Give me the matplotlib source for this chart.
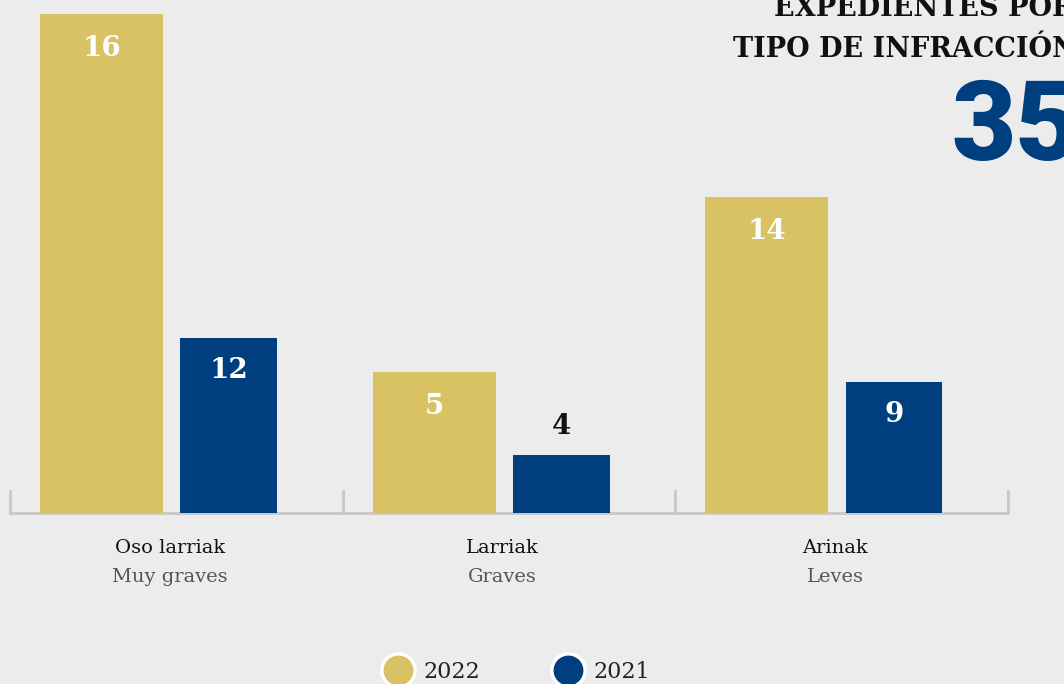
import matplotlib
matplotlib.use("Agg")
import matplotlib.pyplot as plt
import numpy as np

# Datos
categorias = ["Oso larriak", "Larriak", "Arinak"]
subtitulos = ["Muy graves", "Graves", "Leves"]
valores_2022 = [16, 5, 14]
valores_2021 = [12, 4, 9]
# altura dibujada de las barras en la imagen (no es proporcional al valor)
altura_2022 = [16.0, 4.52, 10.13]
altura_2021 = [5.61, 1.86, 4.20]
total = "35"
titulo_1 = "EXPEDIENTES POR"
titulo_2 = "TIPO DE INFRACCIÓN"

oro = "#d9c264"
azul = "#003f7f"
fondo = "#ececec"
gris = "#c8c8c8"

fig = plt.figure(figsize=(10.64, 6.84), dpi=100, facecolor=fondo)
ax = fig.add_axes([0, 0, 1, 1])
ax.set_facecolor(fondo)
ax.set_xlim(-0.530, 2.668)
ax.set_ylim(-5.483, 16.448)
ax.axis("off")

x = np.arange(len(categorias))
off_oro, off_azul = -0.225, 0.157
b1 = ax.bar(x + off_oro, altura_2022, width=0.37, color=oro, zorder=3)
b2 = ax.bar(x + off_azul, altura_2021, width=0.29, color=azul, zorder=3)

# eje inferior con marcas
ax.plot([-0.5, 2.5], [0, 0], color=gris, lw=2, zorder=2, solid_capstyle="butt")
for xt in [-0.5, 0.5, 1.5, 2.5]:
    ax.plot([xt, xt], [0, 0.72], color=gris, lw=2, zorder=2)

serif = ["DejaVu Serif"]

# etiquetas de valores
for i in range(len(categorias)):
    ax.text(x[i] + off_oro, altura_2022[i] - 1.1, str(valores_2022[i]),
            ha="center", va="center", color="white", fontsize=20,
            fontweight="bold", family=serif, zorder=4)
    if altura_2021[i] > 3:
        ax.text(x[i] + off_azul, altura_2021[i] - 1.05, str(valores_2021[i]),
                ha="center", va="center", color="white", fontsize=20,
                fontweight="bold", family=serif, zorder=4)
    else:
        ax.text(x[i] + off_azul, altura_2021[i] + 0.9, str(valores_2021[i]),
                ha="center", va="center", color="#111111", fontsize=20,
                fontweight="bold", family=serif, zorder=4)

# categorias
for i in range(len(categorias)):
    ax.text(x[i] - 0.02, -1.12, categorias[i], ha="center", va="center",
            fontsize=14, color="#111111", family=serif)
    ax.text(x[i] - 0.02, -2.05, subtitulos[i], ha="center", va="center",
            fontsize=14, color="#555555", family=serif, fontweight="light")

# titulo y total (cortados en el borde, como en el original)
fig.text(0.727, 0.988, titulo_1, ha="left", va="center", fontsize=19.5,
         fontweight="bold", family=serif, color="#111111")
fig.text(0.689, 0.927, titulo_2, ha="left", va="center", fontsize=19.5,
         fontweight="bold", family=serif, color="#111111")
fig.text(0.894, 0.81, total, ha="left", va="center", fontsize=80,
         fontweight="heavy", family=["Roboto", "DejaVu Sans"], color=azul)

# leyenda
for xp, col, lab in [(0.374, oro, "2022"), (0.534, azul, "2021")]:
    fig.add_artist(plt.Line2D([xp], [0.020], marker="o", markersize=24,
                              markerfacecolor=col, markeredgecolor="white",
                              markeredgewidth=2.5, transform=fig.transFigure))
    fig.text(xp + 0.024, 0.018, lab, ha="left", va="center", fontsize=16,
             color="#222222", family=serif, fontweight="light")

fig.savefig("out.png", dpi=100, facecolor=fondo)
